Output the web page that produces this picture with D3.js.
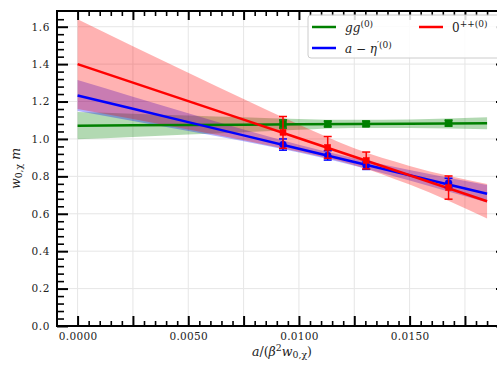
<!DOCTYPE html>
<html>
<head>
<meta charset="utf-8">
<script src="https://cdn.jsdelivr.net/npm/d3@7"></script>
<style>
  body { margin: 0; background: #fff; }
  svg { display: block; font-family: "DejaVu Serif", serif; }
</style>
</head>
<body>
<script>
// data
const pointX = [0.00928, 0.0113, 0.01304, 0.01676];

const ggY = [1.080, 1.080, 1.081, 1.084];
const ggErr = [0.022, 0.015, 0.012, 0.015];
const etaY = [0.970, 0.912, 0.857, 0.765];
const etaErr = [0.030, 0.025, 0.020, 0.025];
const ppY = [1.035, 0.955, 0.885, 0.740];
const ppErr = [0.085, 0.058, 0.045, 0.062];

// fit lines + bands sampled along x
const fitX = [0, 0.0025, 0.005, 0.0075, 0.01, 0.0125, 0.015, 0.0185];
const ggFit = [1.071, 1.073, 1.0745, 1.076, 1.078, 1.080, 1.0815, 1.084];
const ggLo = [0.998, 1.011, 1.0235, 1.036, 1.049, 1.058, 1.0585, 1.052];
const ggHi = [1.144, 1.135, 1.1255, 1.116, 1.107, 1.102, 1.1045, 1.116];
const etaFit = [1.232, 1.161, 1.090, 1.019, 0.948, 0.877, 0.806, 0.707];
const etaLo = [1.149, 1.096, 1.043, 0.988, 0.927, 0.857, 0.778, 0.660];
const etaHi = [1.315, 1.226, 1.137, 1.050, 0.969, 0.897, 0.834, 0.754];
const ppFit = [1.400, 1.301, 1.202, 1.103, 1.004, 0.905, 0.806, 0.667];
const ppLo = [1.160, 1.106, 1.050, 0.993, 0.931, 0.860, 0.756, 0.575];
const ppHi = [1.640, 1.496, 1.354, 1.213, 1.077, 0.950, 0.856, 0.759];

const xMajor = d3.range(0, 0.0190, 0.0025);
const xLabels = ["0.0000", "0.0050", "0.0100", "0.0150"];
const yMajor = [0, 0.2, 0.4, 0.6, 0.8, 1.0, 1.2, 1.4, 1.6];

const width = 497, height = 369;
const margin = { top: 11, right: -10, bottom: 43, left: 57 };

const x = d3.scaleLinear().domain([-0.00093, 0.0194]).range([margin.left, width - margin.right]);
const y = d3.scaleLinear().domain([0, 1.684]).range([height - margin.bottom, margin.top]);

const svg = d3.select("body").append("svg")
  .attr("width", width)
  .attr("height", height);

const series = [
  { name: "gg", color: "#008000", fit: ggFit, lo: ggLo, hi: ggHi, ys: ggY, err: ggErr, marker: "square", ms: 7 },
  { name: "eta", color: "#0000ff", fit: etaFit, lo: etaLo, hi: etaHi, ys: etaY, err: etaErr, marker: "circle", ms: 7 },
  { name: "pp", color: "#ff0000", fit: ppFit, lo: ppLo, hi: ppHi, ys: ppY, err: ppErr, marker: "square", ms: 6 },
];

// grid
const grid = svg.append("g");
grid.selectAll(".gx").data(xMajor).join("line")
  .attr("x1", d => x(d)).attr("x2", d => x(d))
  .attr("y1", y.range()[0]).attr("y2", y.range()[1])
  .attr("stroke", "#e6e6e6").attr("stroke-width", 1);
grid.selectAll(".gy").data(yMajor.slice(1)).join("line")
  .attr("x1", x.range()[0]).attr("x2", x.range()[1])
  .attr("y1", d => y(d)).attr("y2", d => y(d))
  .attr("stroke", "#e6e6e6").attr("stroke-width", 1);

// bands
const band = d3.area()
  .x((d, i) => x(fitX[i]))
  .curve(d3.curveMonotoneX);
series.forEach(s => {
  svg.append("path")
    .attr("d", band.y0((d, i) => y(s.lo[i])).y1((d, i) => y(s.hi[i]))(fitX))
    .attr("fill", s.color)
    .attr("fill-opacity", 0.3);
});

// fit lines
series.forEach(s => {
  svg.append("path")
    .attr("d", d3.line().x((d, i) => x(fitX[i])).y((d, i) => y(s.fit[i]))(fitX))
    .attr("fill", "none")
    .attr("stroke", s.color)
    .attr("stroke-width", 2.5);
});

// points with error bars
series.forEach(s => {
  const g = svg.append("g").attr("stroke", s.color).attr("fill", s.color);
  pointX.forEach((px, i) => {
    const cx = x(px), top = y(s.ys[i] + s.err[i]), bot = y(s.ys[i] - s.err[i]);
    g.append("line").attr("x1", cx).attr("x2", cx).attr("y1", top).attr("y2", bot).attr("stroke-width", 1.5);
    g.append("line").attr("x1", cx - 4).attr("x2", cx + 4).attr("y1", top).attr("y2", top).attr("stroke-width", 1.5);
    g.append("line").attr("x1", cx - 4).attr("x2", cx + 4).attr("y1", bot).attr("y2", bot).attr("stroke-width", 1.5);
    if (s.marker === "circle") {
      g.append("circle").attr("cx", cx).attr("cy", y(s.ys[i])).attr("r", s.ms / 2).attr("stroke-width", 0.5);
    } else {
      g.append("rect").attr("x", cx - s.ms / 2).attr("y", y(s.ys[i]) - s.ms / 2)
        .attr("width", s.ms).attr("height", s.ms).attr("stroke-width", 0.5);
    }
  });
});

// axes (ticks pointing in)
const xMinor = d3.range(0, 0.0195, 0.0005).filter(v => Math.abs(v / 0.0025 - Math.round(v / 0.0025)) > 1e-6);
const yMinor = d3.range(0, 1.68, 0.04).filter(v => Math.abs(v / 0.2 - Math.round(v / 0.2)) > 1e-6);
const fmtX = d => {
  const k = Math.round(d / 0.005);
  return Math.abs(d - k * 0.005) < 1e-9 ? xLabels[k] : "";
};

function styleAxis(g, w) {
  g.select(".domain").remove();
  g.selectAll(".tick line").attr("stroke", "#000").attr("stroke-width", w);
  g.selectAll("text").attr("font-family", "DejaVu Serif").attr("font-size", 10.5).attr("fill", "#222");
}

const yb = y.range()[0], yt = y.range()[1], xl = x.range()[0], xr = x.range()[1];

svg.append("g").attr("transform", `translate(0,${yb})`)
  .call(d3.axisBottom(x).tickValues(xMajor).tickSize(-10).tickPadding(7).tickFormat(fmtX))
  .call(g => styleAxis(g, 2))
  .call(g => g.selectAll("text").attr("letter-spacing", 0.3));
svg.append("g").attr("transform", `translate(0,${yb})`)
  .call(d3.axisBottom(x).tickValues(xMinor).tickSize(-5).tickFormat(""))
  .call(g => styleAxis(g, 1.6));
svg.append("g").attr("transform", `translate(0,${yt})`)
  .call(d3.axisTop(x).tickValues(xMajor).tickSize(-9).tickFormat(""))
  .call(g => styleAxis(g, 2));
svg.append("g").attr("transform", `translate(0,${yt})`)
  .call(d3.axisTop(x).tickValues(xMinor).tickSize(-5).tickFormat(""))
  .call(g => styleAxis(g, 1.6));

svg.append("g").attr("transform", `translate(${xl},0)`)
  .call(d3.axisLeft(y).tickValues(yMajor).tickSize(-11).tickPadding(7).tickFormat(d3.format(".1f")))
  .call(g => styleAxis(g, 2))
  .call(g => g.selectAll("text").attr("letter-spacing", 0.6));
svg.append("g").attr("transform", `translate(${xl},0)`)
  .call(d3.axisLeft(y).tickValues(yMinor).tickSize(-7).tickFormat(""))
  .call(g => styleAxis(g, 1.6));
svg.append("g").attr("transform", `translate(${xr},0)`)
  .call(d3.axisRight(y).tickValues(yMajor).tickSize(-11).tickFormat(""))
  .call(g => styleAxis(g, 2));

// spines
svg.append("rect")
  .attr("x", xl).attr("y", yt)
  .attr("width", xr - xl).attr("height", yb - yt)
  .attr("fill", "none").attr("stroke", "#000").attr("stroke-width", 2);

// legend
const leg = svg.append("g").attr("transform", "translate(308,15)");
leg.append("rect").attr("width", 210).attr("height", 43).attr("rx", 3)
  .attr("fill", "#fff").attr("fill-opacity", 0.85).attr("stroke", "#cccccc").attr("stroke-width", 1);

function mathText(sel, parts, size) {
  const t = sel.append("text").attr("font-size", size).attr("font-family", "DejaVu Serif").attr("fill", "#222");
  parts.forEach(p => {
    const ts = t.append("tspan").text(p.t);
    if (p.i) ts.attr("font-style", "italic");
    if (p.sup) ts.attr("baseline-shift", "super").attr("font-size", size * 0.75);
    if (p.sub) ts.attr("baseline-shift", "-25%").attr("font-size", size * 0.75);
  });
  return t;
}

const legendItems = [
  { color: "#008000", x: 4, y: 12, parts: [{ t: "gg", i: true }, { t: "(0)", sup: true }] },
  { color: "#ff0000", x: 111, y: 12, parts: [{ t: "0" }, { t: "++(0)", sup: true }] },
  { color: "#0000ff", x: 4, y: 33, parts: [{ t: "a", i: true }, { t: " − " }, { t: "η", i: true }, { t: "′(0)", sup: true }] },
];
legendItems.forEach(it => {
  leg.append("line").attr("x1", it.x).attr("x2", it.x + 24).attr("y1", it.y).attr("y2", it.y)
    .attr("stroke", it.color).attr("stroke-width", 2.5);
  mathText(leg, it.parts, 12).attr("x", it.x + 33).attr("y", it.y + 5);
});

// axis labels
mathText(svg, [{ t: "a", i: true }, { t: "/(" }, { t: "β", i: true }, { t: "2", sup: true },
  { t: "w", i: true }, { t: "0,χ", sub: true }, { t: ")" }], 12.5)
  .attr("x", (xl + 497 + 10) / 2).attr("y", 356).attr("text-anchor", "middle");

mathText(svg, [{ t: "w", i: true }, { t: "0,χ", sub: true }, { t: " m", i: true }], 12.5)
  .attr("text-anchor", "middle")
  .attr("transform", `translate(20,${(yt + yb) / 2}) rotate(-90)`);
</script>
</body>
</html>
